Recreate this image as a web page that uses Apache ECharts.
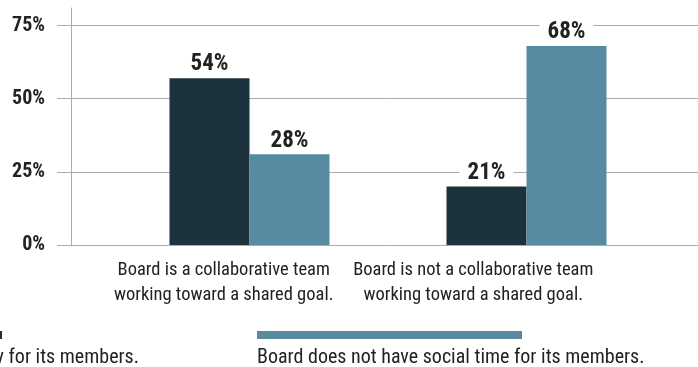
<!DOCTYPE html>
<html>
<head>
<meta charset="utf-8">
<script src="https://cdn.jsdelivr.net/npm/echarts@6/dist/echarts.min.js"></script>
<style>
html,body{margin:0;padding:0;background:#fff;}
#chart{width:698px;height:367px;}
</style>
</head>
<body>
<div id="chart"></div>
<script>
const categories = [
  'Board is a collaborative team\nworking toward a shared goal.',
  'Board is not a collaborative team\nworking toward a shared goal.'
];
const seriesNames = [
  'Board has social time regularly for its members.',
  'Board does not have social time for its members.'
];
const hasSocialTime = [57, 20];
const noSocialTime = [31, 68];
const hasSocialTimeLabels = ['54%', '21%'];
const noSocialTimeLabels = ['28%', '68%'];
const yTickValues = [0, 25, 50, 75];

const FONT = '"Roboto Condensed", "Open Sans Condensed", sans-serif';
const DARK = '#1c323c';
const LIGHT = '#568ba1';
const GRID_C = '#ababab';
const TEXT_C = '#222222';

const chart = echarts.init(document.getElementById('chart'), null, {renderer: 'canvas'});

function barLabel(labels) {
  return {
    show: true,
    position: 'top',
    distance: 1,
    formatter: p => labels[p.dataIndex],
    fontFamily: FONT,
    fontSize: 23,
    fontWeight: 'bold',
    color: TEXT_C,
    backgroundColor: '#ffffff',
    padding: [3, 8, 1, 8]
  };
}

const option = {
  animation: false,
  backgroundColor: '#ffffff',
  grid: [
    {left: 71, right: 0, top: 25.5, bottom: 122},
    {left: 111, width: 554, top: 25.5, bottom: 122},
    {left: 99, width: 499, top: 8, bottom: 122}
  ],
  xAxis: [
    {gridIndex: 0, type: 'category', data: categories, show: false},
    {gridIndex: 1, type: 'category', data: categories, show: false},
    {
      gridIndex: 2, type: 'category', data: categories,
      axisLine: {show: false}, axisTick: {show: false},
      axisLabel: {
        margin: 13, fontFamily: FONT, fontSize: 18.5, lineHeight: 25,
        color: TEXT_C, interval: 0
      }
    }
  ],
  yAxis: [
    {
      gridIndex: 0, type: 'value', min: yTickValues[0], max: yTickValues[yTickValues.length - 1], interval: 25,
      axisLine: {show: false},
      axisTick: {show: true, length: 14, lineStyle: {color: GRID_C, width: 1}},
      splitLine: {show: true, lineStyle: {color: GRID_C, width: 1}},
      axisLabel: {
        margin: 26, formatter: v => v + '%', fontFamily: FONT, fontSize: 20,
        fontWeight: 'bold', color: TEXT_C
      }
    },
    {
      gridIndex: 1, type: 'value', min: 0, max: 75, show: false
    },
    {
      gridIndex: 2, type: 'value', min: 0, max: 1, offset: 28,
      axisLine: {show: true, lineStyle: {color: GRID_C, width: 1}},
      axisTick: {show: false}, axisLabel: {show: false}, splitLine: {show: false}
    }
  ],
  legend: [
    {
      data: [{name: seriesNames[0], icon: 'rect'}],
      left: -263, top: 331, itemWidth: 265, itemHeight: 8,
      formatter: () => '', selectedMode: false, padding: 0
    },
    {
      data: [{name: seriesNames[1], icon: 'rect'}],
      left: 257, top: 331, itemWidth: 265, itemHeight: 8,
      formatter: () => '', selectedMode: false, padding: 0
    }
  ],
  graphic: [
    {
      type: 'text', right: 559, top: 348,
      style: {text: seriesNames[0], font: '20px ' + FONT, fill: TEXT_C}
    },
    {
      type: 'text', left: 257, top: 348,
      style: {text: seriesNames[1], font: '20px ' + FONT, fill: TEXT_C}
    }
  ],
  series: [
    {
      name: seriesNames[0], type: 'bar', xAxisIndex: 1, yAxisIndex: 1,
      data: hasSocialTime, barWidth: 80, barGap: '0%',
      itemStyle: {color: DARK},
      label: barLabel(hasSocialTimeLabels)
    },
    {
      name: seriesNames[1], type: 'bar', xAxisIndex: 1, yAxisIndex: 1,
      data: noSocialTime, barWidth: 80, barGap: '0%',
      itemStyle: {color: LIGHT},
      label: barLabel(noSocialTimeLabels)
    }
  ]
};
chart.setOption(option);
</script>
</body>
</html>
